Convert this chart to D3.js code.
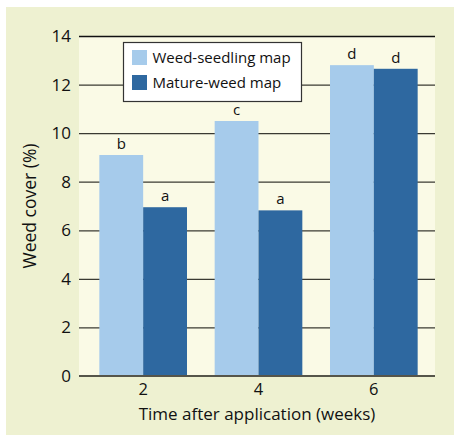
<!DOCTYPE html>
<html lang="en">
<head>
  <meta charset="UTF-8">
  <title>Weed cover chart</title>
  <style>
    body { margin: 0; background: #fff; }
    svg text { font-family: "Open Sans", "DejaVu Sans", sans-serif; fill: #111; }
  </style>
  <script src="https://d3js.org/d3.v7.min.js"></script>
</head>
<body>
  <svg id="chart" width="454" height="436"></svg>

  <script>
    // data
    const weeks = ['2', '4', '6'];
    const seedlingMap = [9.1, 10.5, 12.8];
    const matureMap = [6.95, 6.82, 12.65];
    const seedlingLetters = ['b', 'c', 'd'];
    const matureLetters = ['a', 'a', 'd'];
    const yTicks = [0, 2, 4, 6, 8, 10, 12, 14];
    const seriesNames = ['Weed-seedling map', 'Mature-weed map'];
    const colors = ['#a6cbeb', '#2e68a0'];

    const svg = d3.select('#chart');

    // outer panel
    svg.append('rect')
      .attr('x', 6).attr('y', 7)
      .attr('width', 448).attr('height', 428)
      .attr('fill', '#eef1d1');

    const plot = { left: 79, right: 435, top: 36, bottom: 376 };

    const y = d3.scaleLinear().domain([0, 14]).range([plot.bottom, plot.top]);
    const x = d3.scaleBand().domain(weeks)
      .range([85.5, 431.5])
      .paddingInner(0.24)
      .paddingOuter(0.12);
    const xSub = d3.scaleBand().domain([0, 1]).range([0, x.bandwidth()]);

    // plot background
    svg.append('rect')
      .attr('x', plot.left).attr('y', plot.top)
      .attr('width', plot.right - plot.left).attr('height', plot.bottom - plot.top)
      .attr('fill', '#fafae6');

    // gridlines
    svg.append('g').selectAll('line')
      .data(yTicks.filter(d => d > 0))
      .join('line')
      .attr('x1', plot.left).attr('x2', plot.right)
      .attr('y1', d => y(d) + 0.5).attr('y2', d => y(d) + 0.5)
      .attr('stroke', d => d === 14 ? '#111' : '#3a3a32')
      .attr('stroke-width', d => d === 14 ? 1.5 : 1.2);

    // y tick labels
    svg.append('g').selectAll('text')
      .data(yTicks)
      .join('text')
      .attr('x', plot.left - 8)
      .attr('y', d => y(d))
      .attr('dy', '0.35em')
      .attr('text-anchor', 'end')
      .attr('font-size', 17)
      .text(d => d);

    // bars
    const series = [seedlingMap, matureMap];
    const letters = [seedlingLetters, matureLetters];
    series.forEach((vals, s) => {
      const g = svg.append('g');
      g.selectAll('rect')
        .data(vals)
        .join('rect')
        .attr('x', (d, i) => x(weeks[i]) + xSub(s))
        .attr('y', d => y(d))
        .attr('width', xSub.bandwidth())
        .attr('height', d => y(0) - y(d))
        .attr('fill', colors[s]);
      g.selectAll('text')
        .data(vals)
        .join('text')
        .attr('x', (d, i) => x(weeks[i]) + xSub(s) + xSub.bandwidth() / 2)
        .attr('y', d => y(d) - 6)
        .attr('text-anchor', 'middle')
        .attr('font-size', 15)
        .text((d, i) => letters[s][i]);
    });

    // zero baseline
    svg.append('line')
      .attr('x1', plot.left).attr('x2', plot.right)
      .attr('y1', y(0)).attr('y2', y(0))
      .attr('stroke', '#55554a').attr('stroke-width', 2.2);

    // x tick labels
    svg.append('g').selectAll('text')
      .data(weeks)
      .join('text')
      .attr('x', d => x(d) + x.bandwidth() / 2)
      .attr('y', 395)
      .attr('text-anchor', 'middle')
      .attr('font-size', 16.5)
      .text(d => d);

    // axis titles
    svg.append('text')
      .attr('x', plot.left + (plot.right - plot.left) / 2)
      .attr('y', 419.5)
      .attr('text-anchor', 'middle')
      .attr('font-size', 17)
      .text('Time after application (weeks)');

    svg.append('text')
      .attr('transform', `translate(36, ${(plot.top + plot.bottom) / 2}) rotate(-90)`)
      .attr('text-anchor', 'middle')
      .attr('font-size', 17.5)
      .text('Weed cover (%)');

    // legend
    const legend = svg.append('g').attr('transform', 'translate(123.5, 42.5)');
    legend.append('rect')
      .attr('width', 178).attr('height', 59)
      .attr('fill', '#fff')
      .attr('stroke', '#333').attr('stroke-width', 1.2);
    seriesNames.forEach((name, i) => {
      legend.append('rect')
        .attr('x', 8.5).attr('y', 7.5 + i * 25)
        .attr('width', 15).attr('height', 15)
        .attr('fill', colors[i]);
      legend.append('text')
        .attr('x', 29).attr('y', 15 + i * 25)
        .attr('dy', '0.35em')
        .attr('font-size', 15)
        .text(name);
    });
  </script>
</body>
</html>
